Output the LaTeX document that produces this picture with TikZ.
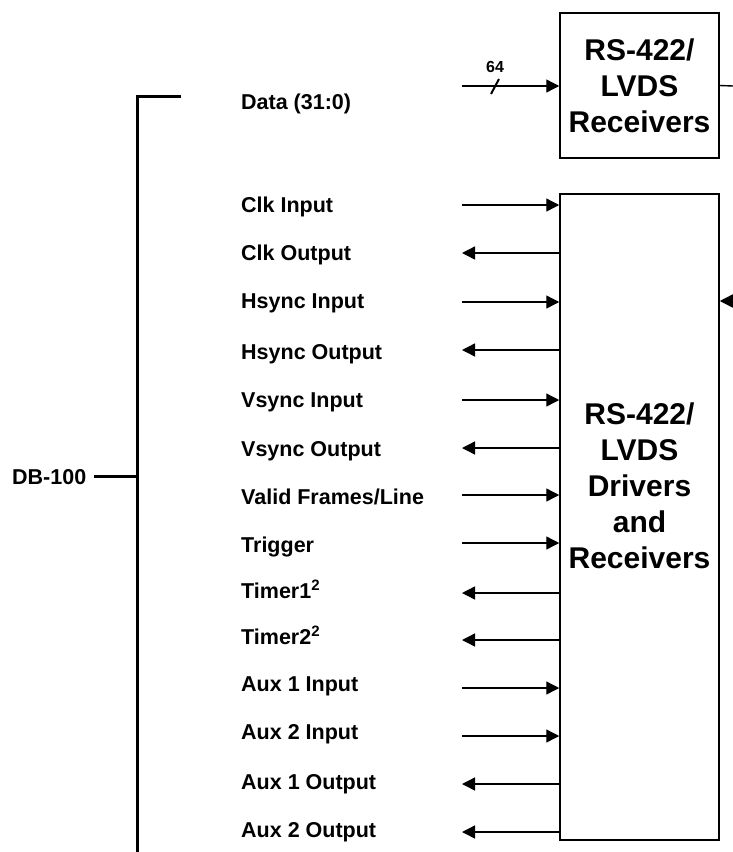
\documentclass[tikz,border=0pt]{standalone}
\usepackage{fontspec}
\setmainfont{Liberation Sans}
\usetikzlibrary{arrows.meta}
\begin{document}
\begin{tikzpicture}[x=1pt,y=-1pt,
  lbl/.style={font=\fontsize{21.5}{24}\selectfont\bfseries, anchor=base west, inner sep=0pt},
  boxtxt/.style={font=\fontsize{30}{36}\selectfont\bfseries, align=center, inner sep=0pt},
  blk/.style={draw, line width=1.5pt, minimum width=159pt, inner sep=0pt},
  sig/.style={line width=1.4pt},
  inarr/.style={sig, -{Triangle[length=13pt,width=13pt]}},
  outarr/.style={sig, {Triangle[length=13pt,width=13pt]}-},
  bus/.style={line width=3pt}]
  \useasboundingbox (0,0) rectangle (733,852);
  % blocks
  \node[blk, minimum height=145pt] (rcv) at (639.5,85.5) {};
  \node[boxtxt] (rcvtxt) at (639.5,86) {RS-422/\\LVDS\\Receivers};
  \node[blk, minimum height=646pt] (drv) at (639.5,517) {};
  \node[boxtxt] (drvtxt) at (639.5,486) {RS-422/\\LVDS\\Drivers\\and\\Receivers};
  \coordinate (rcvout) at (733,86);
  \draw[sig] (rcv.east) -- (rcvout);
  \coordinate (drvin) at (733,301);
  \draw[inarr] (drvin) -- (drvin -| drv.east);
  % connector bracket
  \node[lbl] (db) at (12,484) {DB-100};
  \coordinate (bt) at (181,96);
  \coordinate (bc) at (137,96);
  \coordinate (bb) at (137,852);
  \draw[bus, line cap=butt] (bt) -- (bc) -- (bb);
  \draw[bus] ([xshift=8pt]db.east) -- (db.east -| bc);
  % data bus
  \node[lbl] (data) at (241,109) {Data (31:0)};
  \coordinate (dataS) at (462,86);
  \draw[inarr] (dataS) -- (dataS -| rcv.west);
  \draw[line width=2pt] (491,94) -- (499,79);
  \node[font=\fontsize{16}{18}\selectfont\bfseries, inner sep=0pt] (w64) at (495,67) {64};
  % signals
  \node[lbl] (clkin) at (241,212) {Clk Input};
  \coordinate (clkinS) at (462,205);
  \draw[inarr] (clkinS) -- (clkinS -| drv.west);
  \node[lbl] (clkout) at (241,260) {Clk Output};
  \coordinate (clkoutS) at (462,253);
  \draw[outarr] (clkoutS) -- (clkoutS -| drv.west);
  \node[lbl] (hsin) at (241,308) {Hsync Input};
  \coordinate (hsinS) at (462,302);
  \draw[inarr] (hsinS) -- (hsinS -| drv.west);
  \node[lbl] (hsout) at (241,359) {Hsync Output};
  \coordinate (hsoutS) at (462,350);
  \draw[outarr] (hsoutS) -- (hsoutS -| drv.west);
  \node[lbl] (vsin) at (241,407) {Vsync Input};
  \coordinate (vsinS) at (462,400);
  \draw[inarr] (vsinS) -- (vsinS -| drv.west);
  \node[lbl] (vsout) at (241,456) {Vsync Output};
  \coordinate (vsoutS) at (462,448);
  \draw[outarr] (vsoutS) -- (vsoutS -| drv.west);
  \node[lbl] (valid) at (241,504) {Valid Frames/Line};
  \coordinate (validS) at (462,495);
  \draw[inarr] (validS) -- (validS -| drv.west);
  \node[lbl] (trig) at (241,552) {Trigger};
  \coordinate (trigS) at (462,543);
  \draw[inarr] (trigS) -- (trigS -| drv.west);
  \node[lbl] (tmr1) at (241,598) {Timer1\textsuperscript{2}};
  \coordinate (tmr1S) at (462,593);
  \draw[outarr] (tmr1S) -- (tmr1S -| drv.west);
  \node[lbl] (tmr2) at (241,644) {Timer2\textsuperscript{2}};
  \coordinate (tmr2S) at (462,640);
  \draw[outarr] (tmr2S) -- (tmr2S -| drv.west);
  \node[lbl] (aux1in) at (241,691) {Aux 1 Input};
  \coordinate (aux1inS) at (462,688);
  \draw[inarr] (aux1inS) -- (aux1inS -| drv.west);
  \node[lbl] (aux2in) at (241,739) {Aux 2 Input};
  \coordinate (aux2inS) at (462,736);
  \draw[inarr] (aux2inS) -- (aux2inS -| drv.west);
  \node[lbl] (aux1out) at (241,789) {Aux 1 Output};
  \coordinate (aux1outS) at (462,784);
  \draw[outarr] (aux1outS) -- (aux1outS -| drv.west);
  \node[lbl] (aux2out) at (241,837) {Aux 2 Output};
  \coordinate (aux2outS) at (462,832);
  \draw[outarr] (aux2outS) -- (aux2outS -| drv.west);
\end{tikzpicture}
\end{document}
